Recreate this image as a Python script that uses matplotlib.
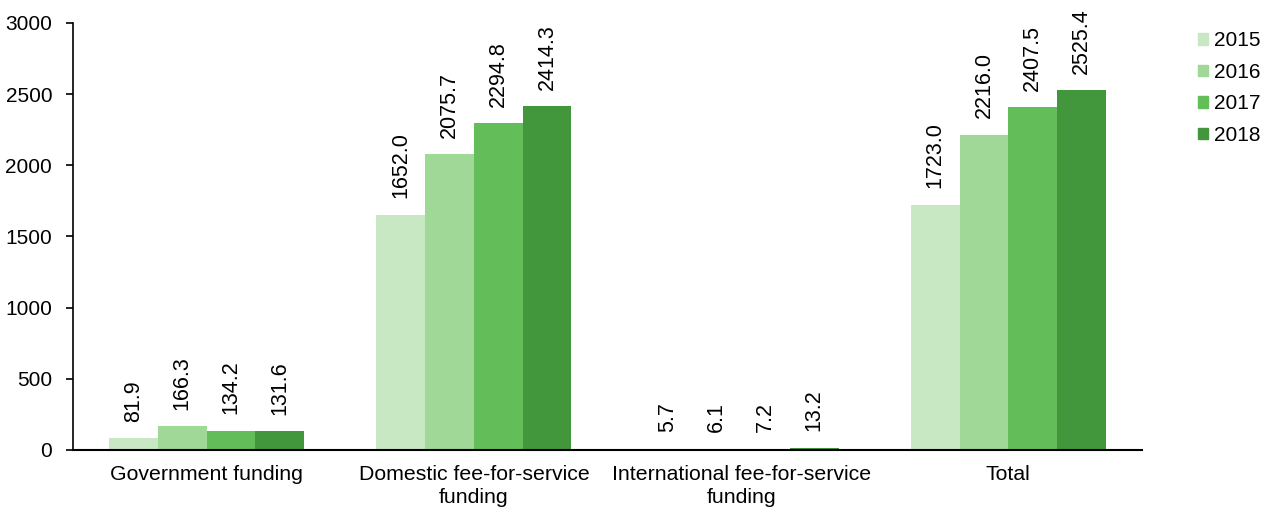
import matplotlib
import matplotlib.pyplot as plt
import numpy as np
from matplotlib.patches import Patch

## Data
categories = ["Government funding", "Domestic fee-for-service\nfunding",
              "International fee-for-service\nfunding", "Total"]
years = ["2015", "2016", "2017", "2018"]
values = {
    "2015": [81.9, 1652.0, 5.7, 1723.0],
    "2016": [166.3, 2075.7, 6.1, 2216.0],
    "2017": [134.2, 2294.8, 7.2, 2407.5],
    "2018": [131.6, 2414.3, 13.2, 2525.4],
}
colors = ["#c8e8c4", "#9fd897", "#63be5a", "#42963b"]

## Set fonts
matplotlib.rcParams.update({'font.size': 15, 'font.family': 'Liberation Sans'})

fig = plt.figure(figsize=(12.68, 5.09), dpi=100)
ax = fig.add_axes([0.0576, 0.116, 0.843, 0.839])

x = np.arange(len(categories))
width = 0.1825
for i, yr in enumerate(years):
    pos = x + (i - 1.5) * width
    bars = ax.bar(pos, values[yr], width, color=colors[i], label=yr)
    for rect, v in zip(bars, values[yr]):
        ax.annotate(f"{v:.1f}", (rect.get_x() + rect.get_width() / 2, rect.get_height()),
                    xytext=(0, 12), textcoords="offset points",
                    rotation=90, ha="center", va="bottom", fontsize=15.5)

ax.set_xlim(-0.5, 3.5)
ax.set_ylim(0, 3000)
ax.set_yticks(range(0, 3001, 500))
ax.set_xticks(x)
ax.set_xticklabels(categories, linespacing=1.25, fontsize=15.3)
ax.tick_params(axis='x', length=0, pad=11)
ax.tick_params(axis='y', length=5, width=1.2, pad=10)
ax.spines['top'].set_visible(False)
ax.spines['right'].set_visible(False)
ax.spines['left'].set_linewidth(1.2)
ax.spines['bottom'].set_linewidth(1.5)

handles = [Patch(color=c, label=y) for c, y in zip(colors, years)]
fig.legend(handles=handles, loc='upper left', bbox_to_anchor=(0.930, 0.975),
           frameon=False, handlelength=0.48, handleheight=0.48, handletextpad=0.3,
           labelspacing=0.6, fontsize=15)

fig.savefig("out.png", dpi=100)
